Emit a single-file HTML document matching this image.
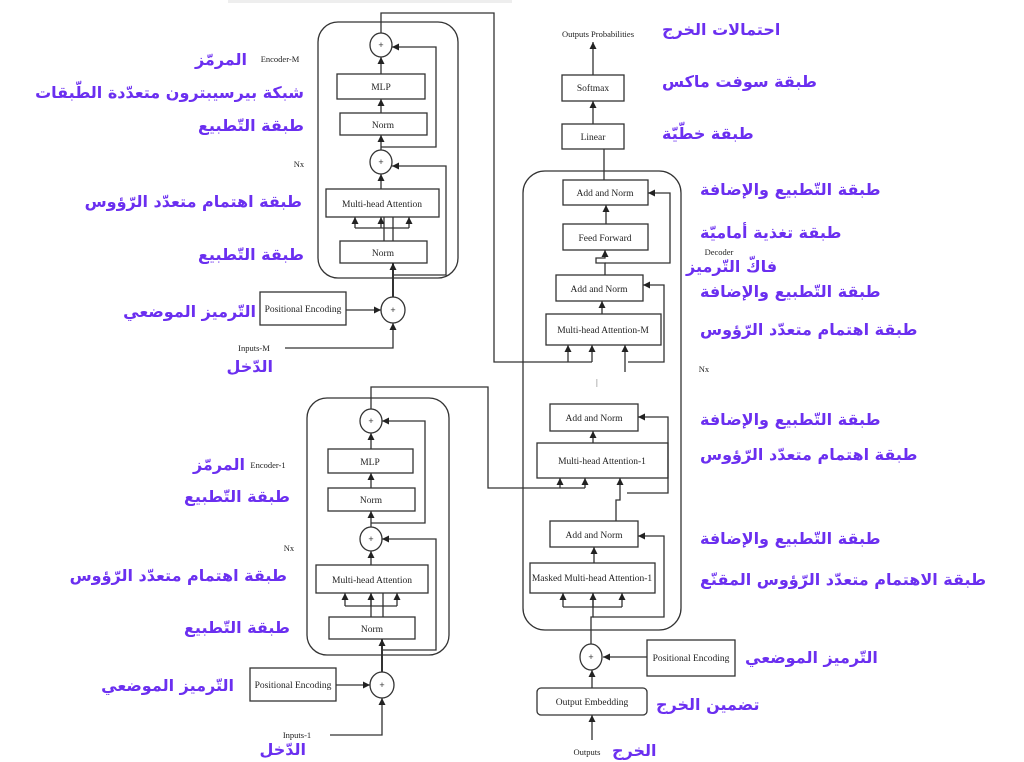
<!DOCTYPE html>
<html><head><meta charset="utf-8">
<style>
html,body{margin:0;padding:0;background:#fff;}
#w{position:relative;width:1024px;height:762px;overflow:hidden;background:#fff;}
svg{position:absolute;left:0;top:0;}
.a{position:absolute;font-family:"DejaVu Sans",sans-serif;font-weight:bold;font-size:16px;color:#6b2ff0;direction:rtl;white-space:nowrap;line-height:20px;}
</style></head><body><div id="w">
<svg width="1024" height="762" viewBox="0 0 1024 762" xmlns="http://www.w3.org/2000/svg">
<defs><marker id="m" viewBox="0 0 10 10" refX="10" refY="5" markerWidth="7" markerHeight="7" orient="auto" markerUnits="userSpaceOnUse"><path d="M0,0 L10,5 L0,10z" fill="#222"/></marker></defs>
<rect x="228" y="0" width="284" height="3" fill="#eee"/>
<g fill="none" stroke="#333" stroke-width="1.3">
<rect x="318" y="22" width="140" height="256" rx="20"/>
<ellipse cx="381" cy="45" rx="11" ry="12"/>
<rect x="337" y="74" width="88" height="25"/>
<rect x="340" y="113" width="87" height="22"/>
<ellipse cx="381" cy="162" rx="11" ry="12"/>
<rect x="326" y="189" width="113" height="28"/>
<rect x="340" y="241" width="87" height="22"/>
<rect x="260" y="292" width="86" height="33"/>
<ellipse cx="393" cy="310" rx="12" ry="13"/>
<path d="M285 348 H393 V323" marker-end="url(#m)"/>
<path d="M393 297 V263" marker-end="url(#m)" stroke-width="2"/>
<path d="M346 310 H381" marker-end="url(#m)"/>
<path d="M384 241 V217" /><path d="M393 241 V217"/>
<path d="M355 228 H409"/><path d="M355 228 V217" marker-end="url(#m)"/><path d="M381 228 V217" marker-end="url(#m)"/><path d="M409 228 V217" marker-end="url(#m)"/>
<path d="M381 189 V174" marker-end="url(#m)"/>
<path d="M393 275 H446 V166 H392" marker-end="url(#m)"/>
<path d="M381 150 V135" marker-end="url(#m)"/>
<path d="M381 113 V99" marker-end="url(#m)"/>
<path d="M381 74 V57" marker-end="url(#m)"/>
<path d="M381 147 H436 V47 H392" marker-end="url(#m)"/>
<path d="M381 33 V13 H494 V362 H592"/>
<path d="M568 362 V345" marker-end="url(#m)"/><path d="M592 362 V345" marker-end="url(#m)"/>
<rect x="307" y="398" width="142" height="257" rx="20"/>
<ellipse cx="371" cy="421" rx="11" ry="12"/>
<rect x="328" y="449" width="85" height="24"/>
<rect x="328" y="488" width="87" height="23"/>
<ellipse cx="371" cy="539" rx="11" ry="12"/>
<rect x="316" y="565" width="112" height="28"/>
<rect x="329" y="617" width="86" height="22"/>
<rect x="250" y="668" width="86" height="33"/>
<ellipse cx="382" cy="685" rx="12" ry="13"/>
<path d="M330 735 H382 V698" marker-end="url(#m)"/>
<path d="M382 672 V639" marker-end="url(#m)" stroke-width="2"/>
<path d="M336 685 H370" marker-end="url(#m)"/>
<path d="M371 617 V593"/><path d="M383 617 V593"/>
<path d="M345 606 H397"/><path d="M345 606 V593" marker-end="url(#m)"/><path d="M371 606 V593" marker-end="url(#m)"/><path d="M397 606 V593" marker-end="url(#m)"/>
<path d="M371 565 V551" marker-end="url(#m)"/>
<path d="M382 650 H436 V539 H382" marker-end="url(#m)"/>
<path d="M371 527 V511" marker-end="url(#m)"/>
<path d="M371 488 V473" marker-end="url(#m)"/>
<path d="M371 449 V433" marker-end="url(#m)"/>
<path d="M371 523 H425 V421 H382" marker-end="url(#m)"/>
<path d="M371 409 V387 H488 V488 H585"/>
<path d="M560 488 V478" marker-end="url(#m)"/><path d="M585 488 V478" marker-end="url(#m)"/>
<rect x="523" y="171" width="158" height="459" rx="22"/>
<rect x="563" y="180" width="85" height="25"/>
<rect x="563" y="224" width="85" height="26"/>
<rect x="556" y="275" width="87" height="26"/>
<rect x="546" y="314" width="115" height="31"/>
<rect x="550" y="404" width="88" height="27"/>
<rect x="537" y="443" width="131" height="35"/>
<rect x="550" y="521" width="88" height="26"/>
<rect x="530" y="563" width="125" height="30"/>
<rect x="562" y="124" width="62" height="25"/>
<rect x="562" y="75" width="62" height="26"/>
<ellipse cx="591" cy="657" rx="11" ry="13"/>
<rect x="647" y="640" width="88" height="36"/>
<rect x="537" y="688" width="110" height="27" rx="4"/>
<path d="M592 740 V715" marker-end="url(#m)"/>
<path d="M592 688 V670" marker-end="url(#m)"/>
<path d="M647 657 H603" marker-end="url(#m)"/>
<path d="M591 644 V617 H593 V593"/>
<path d="M563 607 H622"/><path d="M563 607 V593" marker-end="url(#m)"/><path d="M593 607 V593" marker-end="url(#m)"/><path d="M622 607 V593" marker-end="url(#m)"/>
<path d="M593 617 H664 V536 H638" marker-end="url(#m)"/>
<path d="M594 563 V547" marker-end="url(#m)"/>
<path d="M616 521 V500 H620 V478" marker-end="url(#m)"/>
<path d="M627 493 H668 V417 H638" marker-end="url(#m)"/>
<path d="M593 443 V431" marker-end="url(#m)"/>
<path d="M625 372 V345" marker-end="url(#m)"/>
<path d="M628 362 H664 V285 H643" marker-end="url(#m)"/>
<path d="M602 314 V301" marker-end="url(#m)"/>
<path d="M605 275 V263 H596 V258 H605 V250" marker-end="url(#m)"/>
<path d="M605 263 H670 V193 H648" marker-end="url(#m)"/>
<path d="M606 224 V205" marker-end="url(#m)"/>
<path d="M604 180 V149"/>
<path d="M593 124 V101" marker-end="url(#m)"/>
<path d="M593 75 V42" marker-end="url(#m)"/>
</g>
<rect x="596" y="379" width="1.5" height="8" fill="#ccc"/>
<g font-family="Liberation Sans,sans-serif" font-size="9" fill="#333" text-anchor="middle">
<text x="381" y="48">+</text><text x="381" y="165">+</text><text x="393" y="313">+</text>
<text x="371" y="424">+</text><text x="371" y="542">+</text><text x="382" y="688">+</text>
<text x="591" y="660">+</text>
</g>
<g font-family="Liberation Serif,serif" font-size="9.5" fill="#222" text-anchor="middle">
<text x="381" y="90">MLP</text><text x="383" y="128">Norm</text>
<text x="382" y="207">Multi-head Attention</text><text x="383" y="256">Norm</text>
<text x="303" y="312">Positional Encoding</text>
<text x="370" y="465">MLP</text><text x="371" y="503">Norm</text>
<text x="372" y="583">Multi-head Attention</text><text x="372" y="632">Norm</text>
<text x="293" y="688">Positional Encoding</text>
<text x="605" y="196">Add and Norm</text><text x="605" y="241">Feed Forward</text>
<text x="599" y="292">Add and Norm</text><text x="603" y="333">Multi-head Attention-M</text>
<text x="594" y="421">Add and Norm</text><text x="602" y="464">Multi-head Attention-1</text>
<text x="594" y="538">Add and Norm</text><text x="592" y="581">Masked Multi-head Attention-1</text>
<text x="593" y="140">Linear</text><text x="593" y="91">Softmax</text>
<text x="691" y="661">Positional Encoding</text><text x="592" y="705">Output Embedding</text>
<text x="598" y="37" font-size="8.5">Outputs Probabilities</text>
<text x="587" y="755" font-size="8.5">Outputs</text>
<text x="280" y="62" font-size="8.5">Encoder-M</text>
<text x="268" y="468" font-size="8.5">Encoder-1</text>
<text x="299" y="167" font-size="8.5">Nx</text>
<text x="289" y="551" font-size="8.5">Nx</text>
<text x="704" y="372" font-size="8.5">Nx</text>
<text x="719" y="255" font-size="8.5">Decoder</text>
<text x="254" y="351" font-size="8.5">Inputs-M</text>
<text x="297" y="738" font-size="8.5">Inputs-1</text>
</g>
</svg>
<div class="a" style="right:777px;top:50px">المرمّز</div>
<div class="a" style="right:720px;top:83px">شبكة بيرسيبترون متعدّدة الطّبقات</div>
<div class="a" style="right:720px;top:116px">طبقة التّطبيع</div>
<div class="a" style="right:722px;top:192px">طبقة اهتمام متعدّد الرّؤوس</div>
<div class="a" style="right:720px;top:245px">طبقة التّطبيع</div>
<div class="a" style="right:768px;top:302px">التّرميز الموضعي</div>
<div class="a" style="right:751px;top:357px">الدّخل</div>
<div class="a" style="right:779px;top:455px">المرمّز</div>
<div class="a" style="right:734px;top:487px">طبقة التّطبيع</div>
<div class="a" style="right:737px;top:566px">طبقة اهتمام متعدّد الرّؤوس</div>
<div class="a" style="right:734px;top:618px">طبقة التّطبيع</div>
<div class="a" style="right:790px;top:676px">التّرميز الموضعي</div>
<div class="a" style="right:718px;top:740px">الدّخل</div>
<div class="a" style="left:662px;top:20px">احتمالات الخرج</div>
<div class="a" style="left:662px;top:72px">طبقة سوفت ماكس</div>
<div class="a" style="left:662px;top:124px">طبقة خطّيّة</div>
<div class="a" style="left:700px;top:180px">طبقة التّطبيع والإضافة</div>
<div class="a" style="left:700px;top:223px">طبقة تغذية أماميّة</div>
<div class="a" style="left:686px;top:257px">فاكّ التّرميز</div>
<div class="a" style="left:700px;top:282px">طبقة التّطبيع والإضافة</div>
<div class="a" style="left:700px;top:320px">طبقة اهتمام متعدّد الرّؤوس</div>
<div class="a" style="left:700px;top:410px">طبقة التّطبيع والإضافة</div>
<div class="a" style="left:700px;top:445px">طبقة اهتمام متعدّد الرّؤوس</div>
<div class="a" style="left:700px;top:529px">طبقة التّطبيع والإضافة</div>
<div class="a" style="left:700px;top:570px">طبقة الاهتمام متعدّد الرّؤوس المقنّع</div>
<div class="a" style="left:745px;top:648px">التّرميز الموضعي</div>
<div class="a" style="left:656px;top:695px">تضمين الخرج</div>
<div class="a" style="left:612px;top:741px">الخرج</div>
</div></body></html>
